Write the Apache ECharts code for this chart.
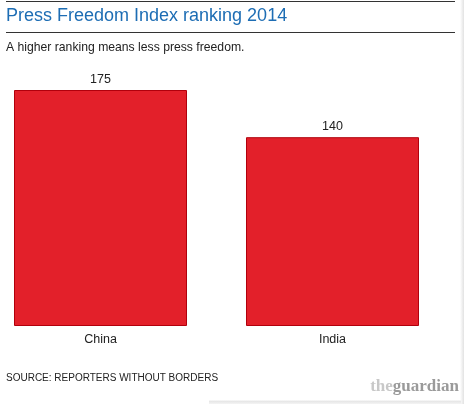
<!DOCTYPE html>
<html><head><meta charset="utf-8">
<script src="https://cdn.jsdelivr.net/npm/echarts@6/dist/echarts.min.js"></script>
<style>html,body{margin:0;padding:0;background:#fff;}#c{width:464px;height:404px;}</style>
</head><body><div id="c"></div>
<script>
var categories = ['China', 'India'];
var values = [175, 140];
var titleText = 'Press Freedom Index ranking 2014';
var subtitleText = 'A higher ranking means less press freedom.';
var sourceText = 'SOURCE: REPORTERS WITHOUT BORDERS';

var chart = echarts.init(document.getElementById('c'), null, {renderer: 'canvas'});
chart.setOption({
  animation: false,
  backgroundColor: '#fff',
  title: [
    {text: titleText, left: 6, top: 7, padding: 0, textStyle: {color: '#1d6db4', fontSize: 18, fontWeight: 'normal', fontFamily: 'Liberation Sans, Arial'}},
    {text: subtitleText, left: 6, top: 42, padding: 0, textStyle: {color: '#222', fontSize: 12.2, fontWeight: 'normal', fontFamily: 'Liberation Sans, Arial'}},
    {text: sourceText, left: 6, top: 373, padding: 0, textStyle: {color: '#222', fontSize: 10, fontWeight: 'normal', fontFamily: 'Liberation Sans, Arial'}}
  ],
  graphic: [
    {type: 'rect', shape: {x: 460, y: 0, width: 4, height: 404}, style: {fill: new echarts.graphic.LinearGradient(0, 0, 1, 0, [{offset: 0, color: '#ffffff'}, {offset: 1, color: '#e2e2e2'}])}},
    {type: 'rect', shape: {x: 209, y: 400, width: 252, height: 4}, style: {fill: new echarts.graphic.LinearGradient(0, 0, 0, 1, [{offset: 0, color: '#ffffff'}, {offset: 0.3, color: '#e6e6e6'}, {offset: 1, color: '#f4f4f4'}])}},
    {type: 'line', shape: {x1: 6, y1: 1.5, x2: 455, y2: 1.5}, style: {stroke: '#333', lineWidth: 1}},
    {type: 'line', shape: {x1: 6, y1: 32.5, x2: 455, y2: 32.5}, style: {stroke: '#333', lineWidth: 1}},
    {type: 'text', right: 5, top: 378, style: {
      text: '{a|the}{b|guardian}',
      rich: {
        a: {fontFamily: 'Liberation Serif, serif', fontWeight: 'bold', fontSize: 17, fill: '#c8c8c8'},
        b: {fontFamily: 'Liberation Serif, serif', fontWeight: 'bold', fontSize: 17, fill: '#9a9a9a'}
      }
    }}
  ],
  grid: {left: 100.5, right: 131.5, top: 90, bottom: 78, containLabel: false},
  xAxis: {
    type: 'category', data: categories, boundaryGap: false,
    axisLine: {show: false}, axisTick: {show: false}, splitLine: {show: false},
    axisLabel: {color: '#222', fontSize: 12.5, margin: 7, fontFamily: 'Liberation Sans, Arial'}
  },
  yAxis: {type: 'value', min: 0, max: 175, show: false, splitLine: {show: false}},
  series: [{
    type: 'bar', data: values, barWidth: 173, clip: false,
    itemStyle: {color: '#e3202a', borderColor: '#b1000c', borderWidth: 1},
    label: {show: true, position: 'top', distance: 4, color: '#222', fontSize: 12.5, fontFamily: 'Liberation Sans, Arial'}
  }]
});
</script></body></html>
